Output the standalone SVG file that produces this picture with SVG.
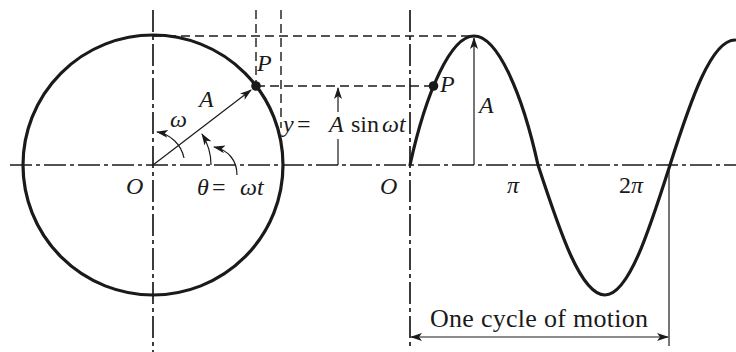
<svg xmlns="http://www.w3.org/2000/svg" width="736" height="352" viewBox="0 0 736 352">
<style>
.bg{fill:#fff}
.thick{fill:none;stroke:#1a1a1a;stroke-width:3.2;stroke-linecap:round}
.center{fill:none;stroke:#1a1a1a;stroke-width:1.7;stroke-dasharray:22 4 4 4}
.dash{fill:none;stroke:#1a1a1a;stroke-width:1.4;stroke-dasharray:9 5}
.thin{fill:none;stroke:#1a1a1a;stroke-width:1.2}
.m{font-family:"Liberation Serif","Times New Roman",serif;font-style:italic;font-size:24px;fill:#1a1a1a}
.r{font-family:"Liberation Serif","Times New Roman",serif;font-style:normal;font-size:24px;fill:#1a1a1a}
.lbl{font-family:"Liberation Serif","Times New Roman",serif;font-size:26px;fill:#1a1a1a}
</style>
<defs>
<marker id="ah" viewBox="0 0 12 8" refX="11" refY="4" markerWidth="12" markerHeight="8" markerUnits="userSpaceOnUse" orient="auto-start-reverse">
<path d="M0,0 L12,4 L0,8 L3,4 z" fill="#1a1a1a"/>
</marker>
</defs>
<rect class="bg" x="0" y="0" width="736" height="352"/>
<g id="centerlines">
<line class="center" x1="153" y1="10" x2="153" y2="352"/>
<line class="center" x1="10" y1="165" x2="736" y2="165"/>
<line class="center" x1="410" y1="10" x2="410" y2="347"/>
</g>
<g id="projections">
<line class="dash" x1="256" y1="10" x2="256" y2="86"/>
<line class="dash" x1="281" y1="10" x2="281" y2="128"/>
<line class="dash" x1="153" y1="36" x2="474" y2="36"/>
<line class="dash" x1="256" y1="86" x2="433" y2="86"/>
</g>
<g id="circle">
<circle class="thick" cx="153" cy="165" r="130"/>
<circle cx="256" cy="86" r="4.8" fill="#1a1a1a"/>
</g>
<g id="sine">
<path class="thick" d="M410,165 C426,92 450.8,36 474,36 C497.2,36 522,92 538,165 C559.8,231.6 580.8,295 605,295 C628.5,295 648.8,231.6 670,165 C691.2,98.4 711.5,40 735,40"/>
<circle cx="433.5" cy="86" r="4.8" fill="#1a1a1a"/>
</g>
<g id="connectors">
<line class="thin" x1="153" y1="165" x2="251" y2="90" marker-end="url(#ah)"/>
<path class="thin" d="M184,158 A33,33 0 0 0 157,132" marker-end="url(#ah)"/>
<path class="thin" d="M211,165 A58,58 0 0 0 202,134" marker-end="url(#ah)"/>
<path class="thin" d="M237,175 C237,160 228,150 214,147" marker-end="url(#ah)"/>
<line class="thin" x1="338" y1="112" x2="338" y2="88" marker-end="url(#ah)"/>
<line class="thin" x1="338" y1="139" x2="338" y2="165"/>
<line class="thin" x1="474" y1="165" x2="474" y2="38" marker-end="url(#ah)"/>
<line class="thin" x1="669" y1="165" x2="669" y2="346"/>
<line class="thin" x1="411" y1="337" x2="668" y2="337" marker-start="url(#ah)" marker-end="url(#ah)"/>
</g>
<g id="labels">
<text class="m" x="257" y="71">P</text>
<text class="m" x="199" y="107">A</text>
<text class="m" x="170" y="127">ω</text>
<text class="m" x="126" y="194">O</text>
<text class="m" x="197" y="195">θ</text>
<text class="r" x="212" y="195">=</text>
<text class="m" x="240" y="195">ωt</text>
<text class="m" x="283" y="132">y</text>
<text class="r" x="297" y="132">=</text>
<text class="m" x="329" y="132">A</text>
<text class="r" x="351" y="132">sin</text>
<text class="m" x="382" y="132">ωt</text>
<text class="m" x="380" y="194">O</text>
<text class="m" x="440" y="92">P</text>
<text class="m" x="479" y="113">A</text>
<text class="m" x="507" y="193">π</text>
<text class="r" x="619" y="193">2<tspan class="m">π</tspan></text>
<text class="lbl" x="430" y="327" textLength="218" lengthAdjust="spacing">One cycle of motion</text>
</g>
</svg>
